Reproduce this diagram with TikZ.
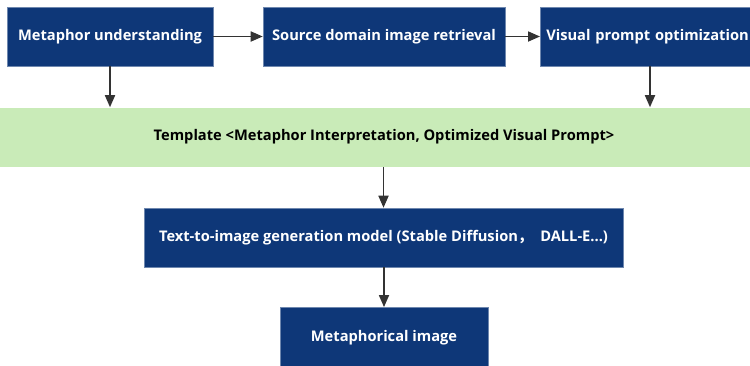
\documentclass[tikz,border=0pt]{standalone}
\usepackage{fontspec}
\setmainfont{Open Sans}
\newfontfamily\cjk{Noto Sans CJK SC}
\usepackage{xcolor}
\usepackage{tikz}
\usetikzlibrary{arrows.meta}
\definecolor{boxblue}{HTML}{0E3778}
\definecolor{bandgreen}{HTML}{C9EBB8}
\definecolor{arrowgray}{HTML}{333333}
\tikzset{
    StepBox/.style = {fill=boxblue,draw=boxblue!60!white,line width=0.4pt,
        text=white,font=\bfseries\fontsize{11}{13}\selectfont,
        minimum height=44.25pt,inner sep=0pt},
    Band/.style = {fill=bandgreen,text=black,
        font=\bfseries\fontsize{11}{13}\selectfont,
        minimum height=44.25pt,inner sep=0pt},
    Flow/.style = {draw=arrowgray,line width=1.3pt,
        -{Triangle[length=9pt,width=7.5pt]}}
}
\begin{document}
\begin{tikzpicture}[x=0.75pt,y=-0.75pt]
        \useasboundingbox (0,0) rectangle (750,365);
        \clip (0,0) rectangle (750,365);
        \fill[white] (0,0) rectangle (750,365);
        % top row
        \node[StepBox,minimum width=154.5pt] (MU) at (110,36.5) {Metaphor understanding};
        \node[StepBox,minimum width=181.5pt] (SR) at (384,36.5) {Source domain image retrieval};
        \node[StepBox,minimum width=170pt,anchor=west,text width=161pt,align=left]
            (VP) at (540,36.5) {Visual prompt optimization};
        % template band
        \node[Band,minimum width=600pt] (TP) at (384,137)
            {Template <Metaphor Interpretation, Optimized Visual Prompt>};
        % generation
        \node[StepBox,minimum width=359.25pt] (TI) at (383.5,237.5)
            {Text-to-image generation model (Stable Diffusion{\cjk ，}\ \ DALL-E...)};
        \node[StepBox,minimum width=156pt,minimum height=46pt] (MI) at (384,338)
            {Metaphorical image};
        % connectors
        \draw[Flow] (MU) -- (SR);
        \draw[Flow] (SR) -- (VP);
        \draw[Flow] (MU.south) -- (MU.south |- TP.north);
        \draw[Flow] (VP.south -| 650,0) -- (TP.north -| 650,0);
        \draw[Flow] (TP.south -| TI.north) -- (TI.north);
        \draw[Flow] (TI.south -| MI.north) -- (MI.north);
\end{tikzpicture}
\end{document}
